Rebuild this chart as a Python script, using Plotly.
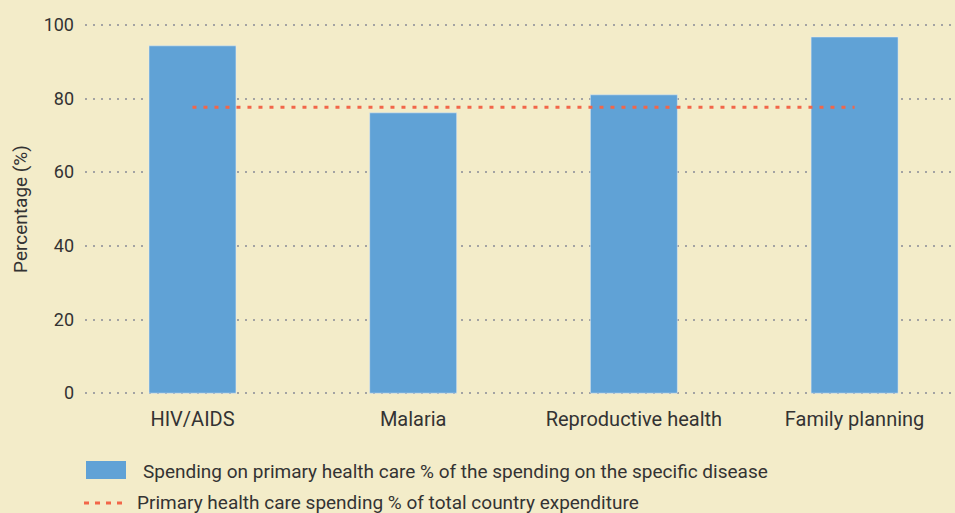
import plotly.graph_objects as go

categories = ["HIV/AIDS", "Malaria", "Reproductive health", "Family planning"]
disease_share = [94.3, 76.1, 81.0, 96.7]
country_share = [77.6, 77.6, 77.6, 77.6]
y_ticks = [0, 20, 40, 60, 80, 100]

legend_bar = "Spending on primary health care % of the spending on the specific disease"
legend_line = "Primary health care spending % of total country expenditure"

BG = "#f3ecc9"
BLUE = "#60a2d6"
RED = "#f26649"
TXT = "#333333"
FONT = "Roboto"

# plot area in pixels: x 85..955, y 23..395 (range -0.5..100.5)
L, R, T, B = 85, 955, 23, 395
def px(x):
    return (x - L) / (R - L)
def py(y):
    return (B - y) / (B - T)

fig = go.Figure()
fig.add_trace(go.Bar(x=categories, y=disease_share, marker_color=BLUE,
                     width=0.394, showlegend=False, name=legend_bar))
fig.add_trace(go.Scatter(x=categories, y=country_share, mode="lines",
                         line=dict(color=RED, width=3, dash="4px,7px"),
                         showlegend=False, name=legend_line))

fig.update_layout(
    width=955, height=513,
    margin=dict(l=L, r=955 - R, t=T, b=513 - B),
    paper_bgcolor=BG, plot_bgcolor=BG,
    font=dict(family=FONT, color=TXT, size=17),
    xaxis=dict(range=[-0.487, 3.455], showgrid=False, zeroline=False,
               showline=False, ticks="", tickfont=dict(size=20, color=TXT),
               ticklabelstandoff=10),
    yaxis=dict(range=[-0.5, 100.5], tickvals=y_ticks, showgrid=True,
               gridcolor="#a3a3a3", griddash="2px,6px", gridwidth=1.5,
               zeroline=False, showline=False, ticks="",
               tickfont=dict(size=18, color=TXT), ticklabelstandoff=10,
               title=dict(text="Percentage (%)", font=dict(size=19, color=TXT),
                          standoff=10)),
)

# Legend drawn manually
fig.add_shape(type="rect", xref="paper", yref="paper",
              x0=px(86), x1=px(126), y0=py(479), y1=py(461),
              fillcolor=BLUE, line=dict(width=0))
fig.add_shape(type="line", xref="paper", yref="paper",
              x0=px(84), x1=px(125), y0=py(503), y1=py(503),
              line=dict(color=RED, width=3, dash="5px,6px"))
fig.add_annotation(xref="paper", yref="paper", x=px(141), y=py(471),
                   text=legend_bar, showarrow=False, xanchor="left",
                   yanchor="middle", font=dict(size=19, color=TXT))
fig.add_annotation(xref="paper", yref="paper", x=px(135), y=py(502),
                   text=legend_line, showarrow=False, xanchor="left",
                   yanchor="middle", font=dict(size=19, color=TXT))

fig.write_html("out.html", config={"displayModeBar": False},
               post_script="document.body.style.margin='0';document.body.style.padding='0';")
